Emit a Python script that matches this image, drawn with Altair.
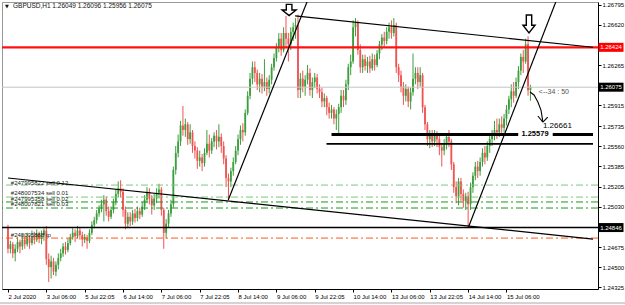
import json
import altair as alt
import pandas as pd

# ---------------- data ----------------
FIRST_OPEN = 1.2485
CLOSES = [
 1.2466,1.2470,1.2462,1.2466,1.2472,1.2468,1.2474,1.2470,1.2476,1.2471,1.2477,1.2474,1.2479,1.2475,1.2478,1.2482,
 1.2457,1.2450,1.2455,1.2446,1.2452,1.2458,1.2462,1.2468,1.2465,1.2471,1.2476,1.2480,1.2477,1.2482,1.2478,1.2474,
 1.2476,1.2473,1.2480,1.2487,1.2491,1.2497,1.2501,1.2505,1.2509,1.2499,1.2494,1.2500,1.2507,1.2514,1.2519,1.2516,
 1.2500,1.2488,1.2494,1.2490,1.2497,1.2493,1.2499,1.2496,1.2503,1.2509,1.2516,1.2510,1.2504,1.2510,1.2515,1.2518,
 1.2500,1.2480,1.2488,1.2497,1.2505,1.2535,1.2550,1.2560,1.2574,1.2570,1.2575,1.2562,1.2568,1.2556,1.2552,1.2543,
 1.2546,1.2541,1.2550,1.2558,1.2552,1.2560,1.2565,1.2560,1.2564,1.2556,1.2545,1.2528,1.2525,1.2534,1.2542,1.2552,
 1.2562,1.2570,1.2568,1.2585,1.2600,1.2615,1.2625,1.2620,1.2610,1.2615,1.2608,1.2612,1.2606,1.2614,1.2625,1.2633,
 1.2642,1.2650,1.2640,1.2655,1.2650,1.2645,1.2656,1.2660,1.2662,1.2605,1.2615,1.2608,1.2614,1.2620,1.2605,1.2612,
 1.2616,1.2606,1.2603,1.2595,1.2598,1.2590,1.2585,1.2588,1.2580,1.2584,1.2590,1.2600,1.2596,1.2610,1.2625,1.2630,
 1.2660,1.2664,1.2640,1.2625,1.2632,1.2626,1.2630,1.2624,1.2632,1.2627,1.2637,1.2645,1.2651,1.2648,1.2656,1.2660,
 1.2655,1.2662,1.2625,1.2618,1.2608,1.2600,1.2606,1.2595,1.2603,1.2615,1.2620,1.2612,1.2618,1.2590,1.2575,1.2562,
 1.2566,1.2560,1.2566,1.2562,1.2555,1.2552,1.2558,1.2564,1.2560,1.2540,1.2520,1.2512,1.2525,1.2514,1.2508,1.2512,
 1.2505,1.2520,1.2530,1.2538,1.2534,1.2542,1.2550,1.2546,1.2556,1.2562,1.2566,1.2570,1.2568,1.2575,1.2572,1.2580,
 1.2588,1.2597,1.2604,1.2600,1.2612,1.2622,1.2634,1.2630,1.2645,1.26049,1.26075]
HIGHS = [
 1.2487,1.2473,1.2472,1.2470,1.2476,1.2474,1.2478,1.2477,1.2480,1.2478,1.2482,1.2481,1.2483,1.2481,1.2482,1.2484,
 1.2486,1.2462,1.2460,1.2458,1.2455,1.2462,1.2466,1.2471,1.2472,1.2475,1.2479,1.2484,1.2483,1.2486,1.2485,1.2481,
 1.2479,1.2478,1.2483,1.2490,1.2494,1.2500,1.2504,1.2509,1.2513,1.2512,1.2503,1.2503,1.2510,1.2518,1.2525,1.2526,
 1.2519,1.2503,1.2498,1.2498,1.2500,1.2501,1.2503,1.2502,1.2507,1.2513,1.2520,1.2519,1.2513,1.2514,1.2519,1.2523,
 1.2520,1.2502,1.2492,1.2500,1.2509,1.2538,1.2556,1.2566,1.2578,1.2591,1.2580,1.2577,1.2575,1.2570,1.2560,1.2555,
 1.2552,1.2549,1.2554,1.2570,1.2566,1.2563,1.2568,1.2570,1.2575,1.2567,1.2560,1.2548,1.2532,1.2537,1.2546,1.2556,
 1.2566,1.2574,1.2576,1.2588,1.2604,1.2620,1.2630,1.2630,1.2623,1.2620,1.2619,1.2632,1.2616,1.2618,1.2628,1.2637,
 1.2646,1.2655,1.2655,1.2660,1.2670,1.2655,1.2660,1.2664,1.2668,1.2671,1.2620,1.2622,1.2618,1.2627,1.2624,1.2616,
 1.2620,1.2619,1.2610,1.2607,1.2602,1.2600,1.2594,1.2592,1.2590,1.2588,1.2593,1.2605,1.2605,1.2614,1.2628,1.2636,
 1.2666,1.2668,1.2666,1.2645,1.2636,1.2636,1.2634,1.2635,1.2637,1.2636,1.2640,1.2648,1.2654,1.2656,1.2660,1.2664,
 1.2666,1.2668,1.2664,1.2628,1.2622,1.2612,1.2610,1.2608,1.2607,1.2637,1.2625,1.2625,1.2625,1.2620,1.2592,1.2577,
 1.2570,1.2570,1.2570,1.2569,1.2566,1.2558,1.2562,1.2567,1.2570,1.2562,1.2542,1.2525,1.2528,1.2528,1.2518,1.2515,
 1.2516,1.2524,1.2533,1.2542,1.2543,1.2546,1.2554,1.2556,1.2560,1.2566,1.2570,1.2578,1.2580,1.2580,1.2582,1.2584,
 1.2592,1.2600,1.2610,1.2612,1.2616,1.2626,1.2637,1.2640,1.2650,1.2652,1.26096]
LOWS = [
 1.2462,1.2462,1.2458,1.2455,1.2463,1.2462,1.2465,1.2466,1.2468,1.2466,1.2469,1.2470,1.2472,1.2471,1.2470,1.2473,
 1.2452,1.2437,1.2440,1.2443,1.2442,1.2448,1.2455,1.2459,1.2461,1.2463,1.2469,1.2474,1.2472,1.2475,1.2474,1.2468,
 1.2471,1.2466,1.2471,1.2478,1.2484,1.2488,1.2494,1.2498,1.2490,1.2495,1.2490,1.2492,1.2497,1.2504,1.2511,1.2511,
 1.2494,1.2483,1.2485,1.2486,1.2487,1.2489,1.2490,1.2492,1.2494,1.2500,1.2506,1.2505,1.2496,1.2500,1.2506,1.2510,
 1.2495,1.2466,1.2475,1.2485,1.2494,1.2502,1.2531,1.2546,1.2556,1.2565,1.2564,1.2557,1.2558,1.2550,1.2545,1.2536,
 1.2538,1.2534,1.2538,1.2548,1.2546,1.2549,1.2555,1.2553,1.2555,1.2550,1.2540,1.2520,1.2510,1.2520,1.2530,1.2540,
 1.2548,1.2557,1.2560,1.2565,1.2583,1.2597,1.2610,1.2612,1.2605,1.2603,1.2602,1.2604,1.2600,1.2602,1.2610,1.2622,
 1.2630,1.2638,1.2635,1.2638,1.2642,1.2630,1.2640,1.2648,1.2650,1.2598,1.2598,1.2603,1.2600,1.2610,1.2600,1.2598,
 1.2607,1.2602,1.2598,1.2590,1.2590,1.2583,1.2580,1.2580,1.2575,1.2570,1.2566,1.2585,1.2590,1.2592,1.2605,1.2618,
 1.2628,1.2652,1.2636,1.2620,1.2620,1.2622,1.2620,1.2620,1.2622,1.2622,1.2625,1.2632,1.2640,1.2643,1.2645,1.2650,
 1.2650,1.2652,1.2620,1.2612,1.2603,1.2592,1.2595,1.2590,1.2588,1.2600,1.2610,1.2606,1.2608,1.2585,1.2570,1.2556,
 1.2554,1.2555,1.2556,1.2555,1.2548,1.2538,1.2548,1.2553,1.2555,1.2535,1.2515,1.2506,1.2504,1.2508,1.2502,1.2500,
 1.2485,1.2500,1.2515,1.2526,1.2528,1.2530,1.2538,1.2540,1.2543,1.2550,1.2556,1.2561,1.2562,1.2564,1.2566,1.2568,
 1.2574,1.2584,1.2590,1.2594,1.2598,1.2606,1.2618,1.2620,1.2628,1.2600,1.25956]

X_TICKS = [0, 16, 32, 48, 64, 80, 96, 112, 128, 144, 160, 176, 192, 208]
X_LABELS = ["2 Jul 2020", "3 Jul 06:00", "5 Jul 22:05", "6 Jul 14:00", "7 Jul 06:00",
            "7 Jul 22:05", "8 Jul 14:00", "9 Jul 06:00", "9 Jul 22:05", "10 Jul 14:00",
            "13 Jul 06:00", "13 Jul 22:05", "14 Jul 14:00", "15 Jul 06:00"]
Y_TICKS = [1.26795, 1.26620, 1.26265, 1.25915, 1.25735, 1.25560, 1.25385,
           1.25205, 1.25030, 1.24675, 1.24500, 1.24325]

# horizontal levels
SOLID_LEVELS = [1.26424, 1.26075, 1.24846]
SOLID_COLORS = ["#ff1010", "#c4c4c4", "#000000"]
SOLID_WIDTHS = [2.2, 1.0, 1.5]
ORDER_LEVELS = [1.25218, 1.25113, 1.25070, 1.25017, 1.24754]
ORDER_COLORS = ["#7cc87c", "#7cc87c", "#1a9a1a", "#1a9a1a", "#ff5a10"]
ORDER_TEXTS = ["#247995822 sell 0.12", "#248007534 sell 0.01", "#247995358 sell 0.02",
               "#248007821 sell 0.03", "#248005888 tp"]
ORDER_TEXT_P = [1.25236, 1.25148, 1.25100, 1.25052, 1.24785]

# drawn segments (bar index, price)
SEG_I1 = [0.0, 119.8, 91.9, 192.0, 135.0, 227.3, 132.9]
SEG_P1 = [1.25280, 1.26699, 1.25087, 1.24842, 1.25661, 1.25661, 1.25579]
SEG_I2 = [244.1, 244.1, 125.1, 228.9, 212.9, 244.1, 244.1]
SEG_P2 = [1.24745, 1.26425, 1.26839, 1.26839, 1.25661, 1.25661, 1.25579]
SEG_W = [1.2, 1.2, 1.2, 1.2, 3.0, 3.0, 1.6]

CURVE_I = [217.8, 219.5, 221.1, 222.4, 223.2]
CURVE_P = [1.26033, 1.26007, 1.25945, 1.25875, 1.25770]
HEAD_I = [221.1, 225.2]
HEAD_P = [1.25823, 1.25814]

ARROW_I = [117.3, 217.4]
ARROW_P = [1.26751, 1.26629]

AXIS_BOX_P = [1.26424, 1.26075, 1.24846]
AXIS_BOX_C = ["#ff0000", "#000000", "#000000"]

# ---------------- frames ----------------
opens = [FIRST_OPEN] + CLOSES[:-1]
candles = pd.DataFrame({
    "i": list(range(len(CLOSES))),
    "open": opens, "close": CLOSES, "high": HIGHS, "low": LOWS,
})
candles["dir"] = ["up" if c >= o else "down" for o, c in zip(opens, CLOSES)]

W, H = 596, 287
xs = alt.Scale(domain=[-0.41, 244.1], nice=False, zero=False)
ys = alt.Scale(domain=[1.24308, 1.26821], nice=False, zero=False)

label_expr = json.dumps(X_LABELS) + "[round(datum.value / 16)]"
x_axis = alt.Axis(values=X_TICKS, labelExpr=label_expr, labelAlign="left",
                  labelFont="Liberation Sans", labelFontSize=6, labelColor="#000",
                  tickSize=3, tickColor="#000", domainColor="#000", labelPadding=1,
                  grid=False, title=None, labelOverlap=False, labelFlush=False,
                  labelBound=False)
y_axis = alt.Axis(orient="right", values=Y_TICKS, format=".5f",
                  labelFont="Liberation Sans", labelFontSize=6, labelColor="#000",
                  tickSize=3, tickColor="#000", domainColor="#000", labelPadding=1,
                  grid=False, title=None, labelOverlap=False, labelFlush=False,
                  labelBound=False)

def X(f):
    return alt.X(f, type="quantitative", scale=xs, axis=x_axis)

def Y(f):
    return alt.Y(f, type="quantitative", scale=ys, axis=y_axis)

layers = []

color_w = alt.Color("dir:N", scale=alt.Scale(domain=["up", "down"],
                                             range=["#3c9e3c", "#f25252"]), legend=None)
color_b = alt.Color("dir:N", scale=alt.Scale(domain=["up", "down"],
                                             range=["#168a16", "#ff1010"]), legend=None)
base = alt.Chart(candles)
layers.append(base.mark_rule(strokeWidth=1).encode(
    x=X("i"), y=Y("low"), y2="high", color=color_w))
layers.append(base.mark_bar(size=1.8).encode(
    x=X("i"), y=Y("open"), y2="close", color=color_b))

solid = pd.DataFrame({"p": SOLID_LEVELS, "c": SOLID_COLORS, "w": SOLID_WIDTHS})
layers.append(alt.Chart(solid).mark_rule().encode(
    y=Y("p"), color=alt.Color("c:N", scale=None),
    strokeWidth=alt.StrokeWidth("w:Q", scale=None)))

orders = pd.DataFrame({"p": ORDER_LEVELS, "c": ORDER_COLORS})
layers.append(alt.Chart(orders).mark_rule(strokeWidth=1, strokeDash=[7, 3, 2, 3]).encode(
    y=Y("p"), color=alt.Color("c:N", scale=None)))

otext = pd.DataFrame({"p": ORDER_TEXT_P, "t": ORDER_TEXTS, "i": [1.2] * len(ORDER_TEXTS)})
layers.append(alt.Chart(otext).mark_text(align="left", baseline="middle", fontSize=6,
                                         font="Liberation Sans", color="#222").encode(
    x=X("i"), y=Y("p"), text="t:N"))

segs = pd.DataFrame({"i1": SEG_I1, "p1": SEG_P1, "i2": SEG_I2, "p2": SEG_P2, "w": SEG_W})
layers.append(alt.Chart(segs).mark_rule(color="#000", clip=True).encode(
    x=X("i1"), x2="i2", y=Y("p1"), y2="p2",
    strokeWidth=alt.StrokeWidth("w:Q", scale=None)))

cdf = pd.DataFrame({"i": CURVE_I, "p": CURVE_P, "o": list(range(len(CURVE_I)))})
layers.append(alt.Chart(cdf).mark_line(color="#000", strokeWidth=1.1).encode(
    x=X("i"), y=Y("p"), order="o:Q"))
hdf = pd.DataFrame({"i1": HEAD_I, "p1": HEAD_P,
                    "i2": [CURVE_I[-1]] * 2, "p2": [CURVE_P[-1]] * 2})
layers.append(alt.Chart(hdf).mark_rule(color="#000", strokeWidth=1.1).encode(
    x=X("i1"), x2="i2", y=Y("p1"), y2="p2"))

# labels on the chart
lab = pd.DataFrame({"i": [221.5, 223.2], "p": [1.26033, 1.25735],
                    "t": ["<--34 : 50", "1.26661"], "c": ["#555555", "#000000"],
                    "s": [7, 8]})
layers.append(alt.Chart(lab).mark_text(align="left", baseline="middle",
                                       font="Liberation Sans").encode(
    x=X("i"), y=Y("p"), text="t:N", color=alt.Color("c:N", scale=None),
    size=alt.Size("s:Q", scale=None)))
lab2 = pd.DataFrame({"i": [219.9], "p": [1.25661], "t": ["1.25579"]})
layers.append(alt.Chart(lab2).mark_text(align="center", baseline="middle", fontSize=7.5,
                                        fontWeight="bold", font="Liberation Sans",
                                        color="#000").encode(
    x=X("i"), y=Y("p"), text="t:N"))

arr1 = pd.DataFrame({"i": [ARROW_I[0]], "p": [ARROW_P[0]]})
arr2 = pd.DataFrame({"i": [ARROW_I[1]], "p": [ARROW_P[1]]})
layers.append(alt.Chart(arr1).mark_point(
    shape="M-0.4,-0.8L0.4,-0.8L0.4,0L1,0L0,0.8L-1,0L-0.4,0Z", size=196, filled=True,
    fill="white", stroke="black", strokeWidth=1.4, opacity=1).encode(x=X("i"), y=Y("p")))
layers.append(alt.Chart(arr2).mark_point(
    shape="M-0.3,-1L0.3,-1L0.3,0.15L0.67,0.15L0,1L-0.67,0.15L-0.3,0.15Z", size=324,
    filled=True, fill="white", stroke="black", strokeWidth=1.4, opacity=1).encode(
    x=X("i"), y=Y("p")))

# price boxes on the right axis
boxes = pd.DataFrame({"p": AXIS_BOX_P, "c": AXIS_BOX_C,
                      "t": [f"{v:.5f}" for v in AXIS_BOX_P]})
layers.append(alt.Chart(boxes).mark_tick(thickness=9, size=25, orient="horizontal",
                                         opacity=1).encode(
    x=alt.value(609), y=Y("p"), color=alt.Color("c:N", scale=None)))
layers.append(alt.Chart(boxes).mark_text(align="center", baseline="middle", fontSize=6,
                                         font="Liberation Sans", color="white").encode(
    x=alt.value(609), y=Y("p"), text="t:N"))

# header
hdr = pd.DataFrame({"t": ["GBPUSD,H1  1.26049 1.26096 1.25956 1.26075"]})
layers.append(alt.Chart(hdr).mark_text(align="left", baseline="middle", fontSize=6.5,
                                       font="Liberation Sans", color="#111").encode(
    x=alt.value(11), y=alt.value(4), text="t:N"))
layers.append(alt.Chart(pd.DataFrame({"t": ["▼"]})).mark_text(
    align="center", baseline="middle", fontSize=5, font="DejaVu Sans", color="#111").encode(
    x=alt.value(5), y=alt.value(4), text="t:N"))
layers.append(alt.Chart(pd.DataFrame({"a": [0]})).mark_rule(color="#a8a8a8").encode(
    x=alt.value(-2), x2=alt.value(623), y=alt.value(301)))

chart = alt.layer(*layers).properties(
    width=W, height=H,
    padding={"left": 2, "top": 2, "right": 27, "bottom": 16},
    autosize=alt.AutoSizeParams(type="none"),
    background="white",
).configure_view(stroke="#9a9a9a", strokeWidth=1)

chart.save("out.html", embed_options={"renderer": "svg", "actions": False})
